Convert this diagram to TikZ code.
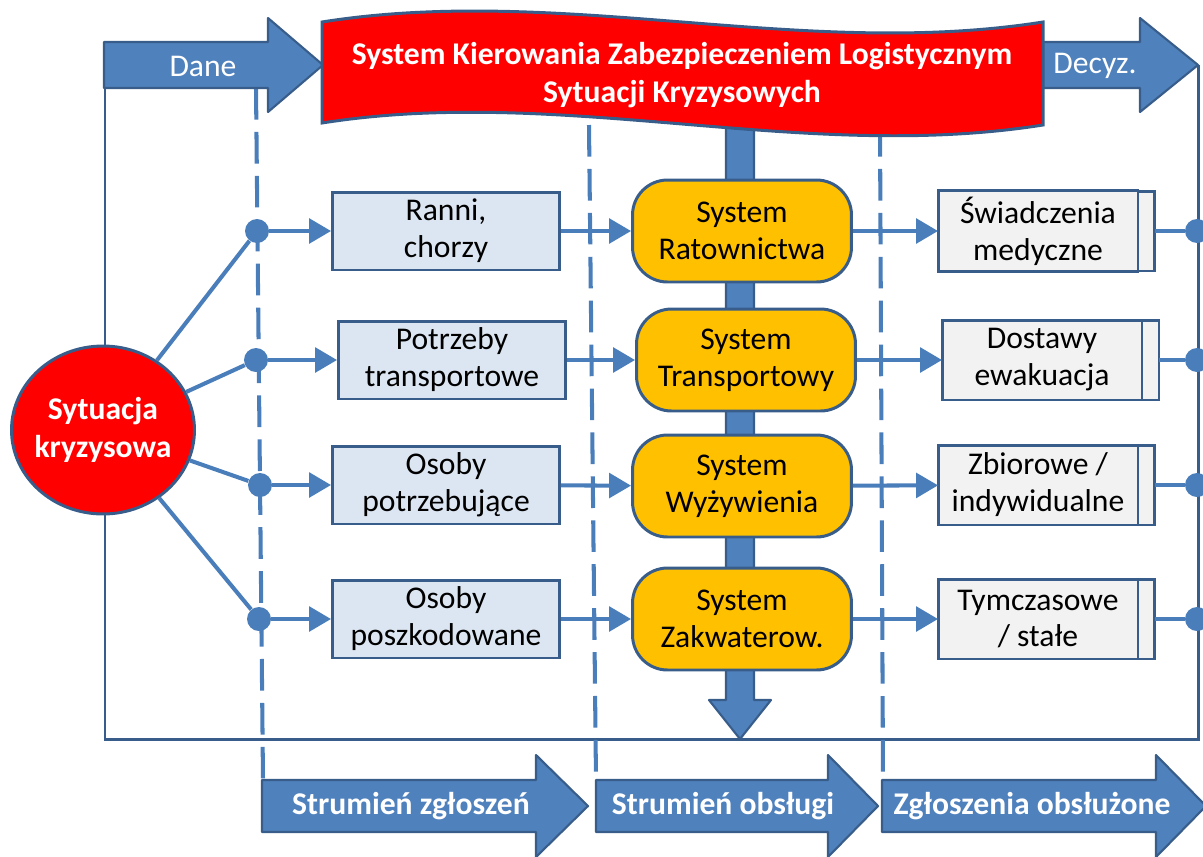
\documentclass[tikz,border=0pt]{standalone}
\usepackage{fontspec}
\setmainfont{Carlito}
\usepackage{tikz}
\usetikzlibrary{arrows.meta, positioning, shapes.geometric}
\definecolor{accfill}{RGB}{79,129,189}
\definecolor{accline}{RGB}{56,93,138}
\definecolor{connc}{RGB}{74,126,187}
\definecolor{orangef}{RGB}{255,192,0}
\definecolor{lbluef}{RGB}{220,230,242}
\definecolor{grayf}{RGB}{242,242,242}

\begin{document}
\begin{tikzpicture}[x=0.02cm, y=-0.02cm,
  txt/.style={font=\fontsize{18}{21}\selectfont, align=center},
  boldtxt/.style={txt, text=white, font=\fontsize{18}{21.6}\selectfont\bfseries},
  whitetxt/.style={txt, text=white},
  frameline/.style={draw=accline, line width=1.7pt},
  splitline/.style={draw=connc, line width=2.3pt, dash pattern=on 18pt off 7pt},
  bigarrow/.style={fill=accfill, draw=accline, line width=1.2pt, line join=round},
  banner/.style={fill=red, draw=accline, line width=1.7pt},
  inbox/.style={rectangle, draw=accline, fill=lbluef, line width=1.7pt, minimum width=4.54cm, minimum height=1.56cm, txt},
  sysbox/.style={rectangle, draw=accline, fill=orangef, line width=1.7pt, rounded corners=0.7cm, minimum width=4.38cm, minimum height=2.04cm, txt},
  outbox/.style={rectangle, draw=accline, fill=grayf, line width=1.7pt, minimum width=4.0cm, minimum height=1.6cm, outer sep=0pt, txt},
  outext/.style={rectangle, draw=accline, fill=grayf, line width=1.7pt, minimum width=0.34cm, minimum height=1.6cm, outer sep=0pt},
  junction/.style={circle, fill=connc, minimum size=0.48cm, inner sep=0pt},
  conn/.style={draw=connc, line width=2.3pt},
  flow/.style={conn, -{Triangle[length=12.5pt, width=14pt]}}
]
\useasboundingbox (0,0) rectangle (1203,856);

\draw[frameline] (105,88) -- (105,739) -- (1198,739) -- (1198,65);
\draw[splitline] (256,88) -- (263,780);
\draw[splitline] (589,125) -- (596,780);
\draw[splitline] (880,125) -- (883,780);

\draw[bigarrow] (726,115) -- (726,700) -- (709,700) -- (740,739) -- (771,700) -- (754,700) -- (754,115) -- cycle;

\draw[bigarrow] (104,42) -- (268,42) -- (268,18) -- (323,65) -- (268,112) -- (268,88) -- (104,88) -- cycle;
\node[whitetxt] (dane) at (203,66) {Dane};
\draw[bigarrow] (1038,42) -- (1140,42) -- (1140,18) -- (1198,65) -- (1140,112) -- (1140,88) -- (1038,88) -- cycle;
\node[whitetxt] (decyz) at (1095,66) {Decyz.};

\draw[banner] (322,22) .. controls (562,-16) and (802,60) .. (1043,22) -- (1043,125) .. controls (802,163) and (562,85) .. (322,123) -- cycle;
\node[boldtxt] (title) at (682,75) {System Kierowania Zabezpieczeniem Logistycznym\\Sytuacji Kryzysowych};

\foreach \n/\xa/\xb/\xc/\xt/\t in {s1/262/536/588/411/Strumień zgłoszeń, s2/596/828/878/723/Strumień obsługi, s3/882/1156/1206/1032/Zgłoszenia obsłużone} {
  \draw[bigarrow] (\xa,780) -- (\xb,780) -- (\xb,755) -- (\xc,806) -- (\xb,857) -- (\xb,832) -- (\xa,832) -- cycle;
  \node[boldtxt] (\n) at (\xt,806) {\t};
}

\node[ellipse, draw=accline, fill=red, line width=1.7pt, minimum width=3.66cm, minimum height=3.36cm, inner xsep=-3pt, boldtxt] (sit) at (103,430) {Sytuacja\\kryzysowa};

\foreach \i/\x/\y in {1/257/231, 2/256/360, 3/260/485, 4/259/619}
  \node[junction] (ld\i) at (\x,\y) {};
\foreach \i/\x/\y/\t in {1/446/231/{Ranni,\\chorzy}, 2/452/360/{Potrzeby\\transportowe}, 3/446/485/{Osoby\\potrzebujące}, 4/446/619/{Osoby\\poszkodowane}}
  \node[inbox] (in\i) at (\x,\y) {\t};
\foreach \i/\x/\y/\t in {1/742/231/Ratownictwa, 2/746/360/Transportowy, 3/742/486/Wyżywienia, 4/742/619/Zakwaterow.}
  \node[sysbox] (sys\i) at (\x,\y) {System\\\t};
\foreach \i/\x/\y/\t in {1/1038/231/{Świadczenia\\medyczne}, 2/1042/360/{Dostawy\\ewakuacja}, 3/1038/485/{Zbiorowe /\\indywidualne}, 4/1038/619/{Tymczasowe\\/ stałe}} {
  \node[outbox] (out\i) at (\x,\y) {\t};
  \node[outext, right=0pt of out\i] (ext\i) {};
}
\foreach \i/\y in {1/231, 2/360, 3/485, 4/619}
  \node[junction] (rd\i) at (1197,\y) {};

\foreach \i in {1,...,4} {
  \draw[conn] (sit) -- (ld\i);
  \draw[flow] (ld\i) -- (in\i);
  \draw[flow] (in\i) -- (sys\i);
  \draw[flow] (sys\i) -- (out\i);
  \draw[conn] (ext\i) -- (rd\i);
}
\end{tikzpicture}
\end{document}
